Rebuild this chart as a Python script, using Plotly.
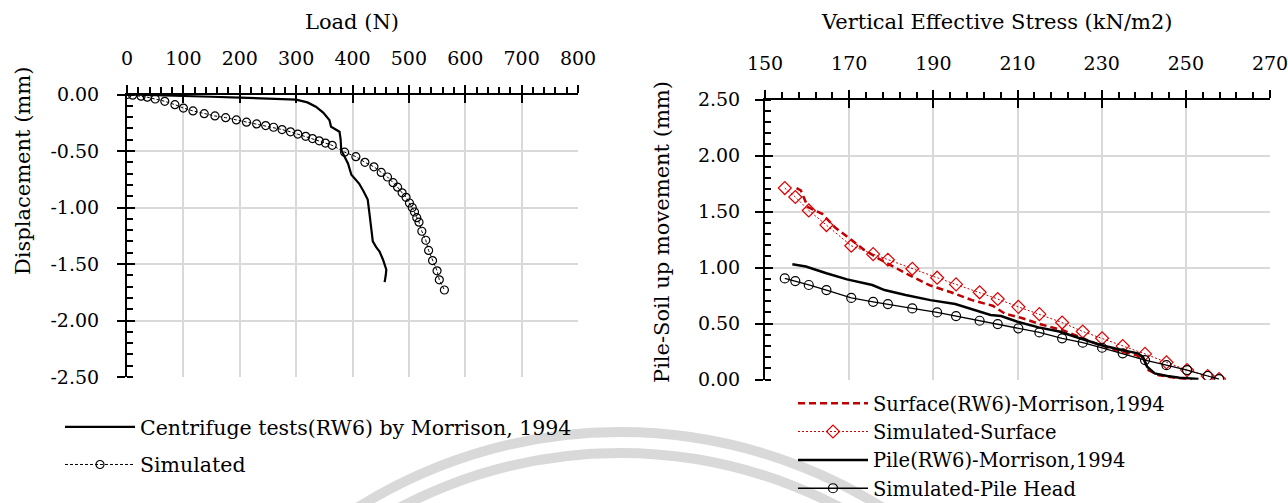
import plotly.graph_objects as go

# ---------------- data: left chart ----------------
load_exp = [0, 50, 100, 150, 200, 250, 300, 320, 335, 348, 359, 362, 370, 377, 379, 380, 386, 392, 398, 405,
            412, 420, 427, 430, 433, 436, 442, 448, 454, 460, 459, 457]
disp_exp = [0, -0.005, -0.013, -0.02, -0.028, -0.035, -0.045, -0.07, -0.108, -0.16, -0.226, -0.285, -0.31, -0.33,
            -0.40, -0.49, -0.55, -0.61, -0.71, -0.75, -0.79, -0.86, -0.93, -1.05, -1.18, -1.30, -1.35, -1.39,
            -1.46, -1.55, -1.60, -1.66]

load_sim = [0, 10, 25, 36, 50, 67, 85, 100, 117, 137, 156, 175, 194, 212, 230, 246, 260, 275, 290, 303, 317, 329,
            341, 352, 364, 386, 406, 422, 438, 451, 462, 472, 480, 488, 495, 501, 506, 510, 514, 518, 523, 530,
            535, 542, 550, 554, 563]
disp_sim = [0, -0.006, -0.015, -0.024, -0.04, -0.06, -0.09, -0.12, -0.145, -0.17, -0.19, -0.205, -0.225, -0.245,
            -0.26, -0.275, -0.29, -0.31, -0.33, -0.35, -0.37, -0.39, -0.41, -0.43, -0.45, -0.51, -0.55, -0.60,
            -0.64, -0.69, -0.73, -0.78, -0.82, -0.87, -0.91, -0.96, -1.00, -1.04, -1.09, -1.13, -1.21, -1.29,
            -1.38, -1.47, -1.56, -1.64, -1.73]

left_xticks = [0, 100, 200, 300, 400, 500, 600, 700, 800]
left_yticks = [0, -0.5, -1.0, -1.5, -2.0, -2.5]
left_yticktext = ["0.00", "-0.50", "-1.00", "-1.50", "-2.00", "-2.50"]

# ---------------- data: right chart ----------------
ves_surf = [157.5, 158.5, 160.2, 163.6, 166.6, 169.5, 173.5, 177.0, 180.4, 184.4, 189.3, 194.2, 199.2, 204.1,
            207.0, 211.0, 215.9, 220.9, 224.8, 228.8, 233.7, 238.2, 240.1, 241.1, 243.6, 248.5, 251.5]
surf_exp = [1.71, 1.69, 1.54, 1.48, 1.36, 1.275, 1.16, 1.08, 1.01, 0.93, 0.84, 0.78, 0.71, 0.66, 0.59, 0.55,
            0.49, 0.44, 0.38, 0.32, 0.26, 0.22, 0.175, 0.086, 0.04, 0.012, 0.003]

ves_sim = [154.7, 157.2, 160.4, 164.6, 170.5, 175.7, 179.2, 185.0, 190.9, 195.4, 201.0, 205.3, 210.2, 215.2,
           220.6, 225.5, 230.1, 235.0, 240.3, 245.4, 250.3, 255.2, 257.9]
surf_sim = [1.71, 1.63, 1.51, 1.38, 1.195, 1.12, 1.07, 0.99, 0.91, 0.85, 0.78, 0.72, 0.65, 0.585, 0.51, 0.43,
            0.37, 0.30, 0.23, 0.155, 0.086, 0.033, 0.006]

ves_pile = [156.5, 159.7, 164.6, 169.5, 175.5, 178.4, 183.4, 189.3, 195.2, 200.1, 203.6, 206.1, 210.0, 215.0,
            219.9, 224.8, 229.8, 234.7, 238.6, 239.8, 240.8, 242.6, 245.6, 248.5, 253.0]
pile_exp = [1.03, 1.01, 0.95, 0.895, 0.845, 0.80, 0.755, 0.71, 0.675, 0.62, 0.577, 0.568, 0.517, 0.467, 0.43,
            0.37, 0.31, 0.265, 0.235, 0.205, 0.116, 0.056, 0.033, 0.018, 0.006]

pile_sim = [0.904, 0.88, 0.845, 0.80, 0.73, 0.695, 0.675, 0.636, 0.60, 0.568, 0.526, 0.496, 0.458, 0.422, 0.369,
            0.33, 0.285, 0.235, 0.175, 0.13, 0.086, 0.033, 0.006]

right_xticks = [150, 170, 190, 210, 230, 250, 270]
right_yticks = [0, 0.5, 1.0, 1.5, 2.0, 2.5]
right_yticktext = ["0.00", "0.50", "1.00", "1.50", "2.00", "2.50"]

# ---------------- figure ----------------
W, H = 1288, 503
FONT = "DejaVu Serif"
RED = "#c00000"
GRID = "#d9d9d9"


def px_x(p):
    return p / W


def px_y(p):
    return 1 - p / H


fig = go.Figure()

fig.add_trace(go.Scatter(x=load_exp, y=disp_exp, mode="lines", name="Centrifuge tests(RW6) by Morrison, 1994",
                         line=dict(color="black", width=2.2), xaxis="x", yaxis="y",
                         legend="legend", legendgroup="a"))
fig.add_trace(go.Scatter(x=load_sim, y=disp_sim, mode="lines+markers", name="Simulated",
                         line=dict(color="black", width=1, dash="3px,2px"),
                         marker=dict(symbol="circle-open", size=8, color="black", line=dict(width=1.2)),
                         xaxis="x", yaxis="y", legend="legend", legendgroup="b"))

fig.add_trace(go.Scatter(x=ves_surf, y=surf_exp, mode="lines", name="Surface(RW6)-Morrison,1994",
                         line=dict(color=RED, width=2.5, dash="7px,4px"), xaxis="x2", yaxis="y2",
                         legend="legend2"))
fig.add_trace(go.Scatter(x=ves_sim, y=surf_sim, mode="lines+markers", name="Simulated-Surface",
                         line=dict(color=RED, width=1, dash="2px,2px"),
                         marker=dict(symbol="diamond-open", size=10, color="#e00000", line=dict(width=1.2)),
                         xaxis="x2", yaxis="y2", legend="legend2"))
fig.add_trace(go.Scatter(x=ves_pile, y=pile_exp, mode="lines", name="Pile(RW6)-Morrison,1994",
                         line=dict(color="black", width=2.5), xaxis="x2", yaxis="y2", legend="legend2"))
fig.add_trace(go.Scatter(x=ves_sim, y=pile_sim, mode="lines+markers", name="Simulated-Pile Head",
                         line=dict(color="black", width=1.3),
                         marker=dict(symbol="circle-open", size=9, color="black", line=dict(width=1.2)),
                         xaxis="x2", yaxis="y2", legend="legend2"))

# invisible traces for overlay axes (inner half of crossing major ticks)
fig.add_trace(go.Scatter(x=[None], y=[None], xaxis="x3", yaxis="y3", showlegend=False, hoverinfo="skip"))
fig.add_trace(go.Scatter(x=[None], y=[None], xaxis="x4", yaxis="y4", showlegend=False, hoverinfo="skip"))

tickfont = dict(family=FONT, size=19, color="black")

left_xdom = [px_x(127), px_x(578)]
left_ydom = [px_y(377), px_y(94.5)]
right_xdom = [px_x(765), px_x(1270)]
right_ydom = [px_y(379.7), px_y(99.5)]

common = dict(showline=True, linecolor="black", linewidth=2, ticks="outside", ticklen=8, tickwidth=2,
              tickcolor="black", gridcolor=GRID, gridwidth=1.5, zeroline=False, tickfont=tickfont,
              fixedrange=True, automargin=False, ticklabeloverflow="allow")
overlay = dict(showline=False, ticks="inside", ticklen=8, tickwidth=2, tickcolor="black",
               showticklabels=False, showgrid=False, zeroline=False, fixedrange=True, automargin=False)

fig.update_layout(
    width=W, height=H, margin=dict(l=0, r=0, t=0, b=0, autoexpand=False),
    paper_bgcolor="white", plot_bgcolor="white",
    font=dict(family=FONT, size=19, color="black"),
    xaxis=dict(domain=left_xdom, anchor="y", side="top", range=[0, 800], tickvals=left_xticks,
               minor=dict(dtick=20, tick0=0, ticks="outside", ticklen=6, tickwidth=1.5, tickcolor="black",
                          showgrid=False),
               ticklabelstandoff=12, **common),
    yaxis=dict(domain=left_ydom, anchor="x", range=[-2.5, 0], tickvals=left_yticks, ticktext=left_yticktext,
               minor=dict(dtick=0.1, tick0=0, ticks="inside", ticklen=6, tickwidth=1.5, tickcolor="black",
                          showgrid=False),
               ticklabelstandoff=14, **common),
    xaxis2=dict(domain=right_xdom, anchor="y2", side="top", range=[150, 270], tickvals=right_xticks,
                minor=dict(dtick=4, tick0=150, ticks="outside", ticklen=6, tickwidth=1.5, tickcolor="black",
                           showgrid=False),
                ticklabelstandoff=12, **common),
    yaxis2=dict(domain=right_ydom, anchor="x2", range=[0, 2.5], tickvals=right_yticks, ticktext=right_yticktext,
                minor=dict(dtick=0.1, tick0=0, ticks="inside", ticklen=6, tickwidth=1.5, tickcolor="black",
                           showgrid=False),
                ticklabelstandoff=11, **common),
    xaxis3=dict(overlaying="x", anchor="y3", side="top", range=[0, 800], tickvals=left_xticks, **overlay),
    yaxis3=dict(overlaying="y", anchor="x3", side="left", range=[-2.5, 0], tickvals=left_yticks, **overlay),
    xaxis4=dict(overlaying="x2", anchor="y4", side="top", range=[150, 270], tickvals=right_xticks, **overlay),
    yaxis4=dict(overlaying="y2", anchor="x4", side="left", range=[0, 2.5], tickvals=right_yticks, **overlay),
    legend=dict(x=px_x(60), y=px_y(407), xanchor="left", yanchor="top", bgcolor="rgba(0,0,0,0)",
                font=dict(family=FONT, size=20.5, color="black"), tracegroupgap=8, traceorder="grouped",
                itemwidth=70),
    legend2=dict(x=px_x(793), y=px_y(384), xanchor="left", yanchor="top", bgcolor="rgba(0,0,0,0)",
                 font=dict(family=FONT, size=19.5, color="black"), itemwidth=70),
    showlegend=True,
)

annots = [
    dict(text="Load (N)", x=px_x(352), y=px_y(22)),
    dict(text="Vertical Effective Stress (kN/m2)", x=px_x(997), y=px_y(22)),
    dict(text="Displacement (mm)", x=px_x(23), y=px_y(171), textangle=-90),
    dict(text="Pile-Soil up movement (mm)", x=px_x(662), y=px_y(232), textangle=-90),
]
for a in annots:
    fig.add_annotation(xref="paper", yref="paper", showarrow=False, xanchor="center", yanchor="middle",
                       font=dict(family=FONT, size=21, color="black"), **a)

# faint watermark arcs at the bottom
for r in (493, 472):
    cx, cy = 620, 925
    fig.add_shape(type="circle", xref="paper", yref="paper", layer="below",
                  x0=px_x(cx - r), x1=px_x(cx + r), y0=px_y(cy + r), y1=px_y(cy - r),
                  line=dict(color="#d9d9d9", width=10))

fig.write_html("out.html")
